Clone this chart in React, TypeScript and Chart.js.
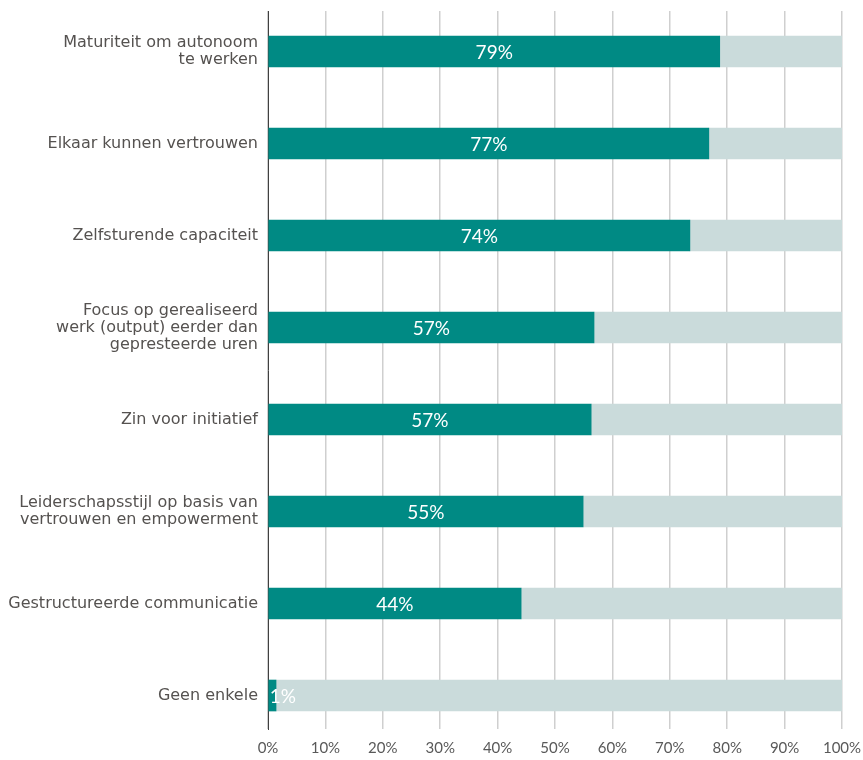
import React, { useEffect, useRef } from "react";
import { Chart, registerables } from "chart.js";

Chart.register(...registerables);

const categories: string[][] = [
  ["Maturiteit om autonoom", "te werken"],
  ["Elkaar kunnen vertrouwen"],
  ["Zelfsturende capaciteit"],
  ["Focus op gerealiseerd", "werk (output) eerder dan", "gepresteerde uren"],
  ["Zin voor initiatief"],
  ["Leiderschapsstijl op basis van", "vertrouwen en empowerment"],
  ["Gestructureerde communicatie"],
  ["Geen enkele"],
];

const values: number[] = [78.7, 76.8, 73.5, 56.8, 56.3, 54.9, 44.1, 1.4];
const valueLabels: string[] = ["79%", "77%", "74%", "57%", "57%", "55%", "44%", "1%"];
const xTicks: number[] = [0, 10, 20, 30, 40, 50, 60, 70, 80, 90, 100];

const TEAL = "#008a84";
const GREY = "#cadbdb";

const valueLabelPlugin = {
  id: "valueLabels",
  afterDatasetsDraw(chart: any) {
    const meta = chart.getDatasetMeta(0);
    const ctx = chart.ctx;
    ctx.save();
    ctx.fillStyle = "#ffffff";
    ctx.font = "19px Lato";
    ctx.textAlign = "center";
    ctx.textBaseline = "middle";
    meta.data.forEach((bar: any, i: number) => {
      const cx = (bar.x + bar.base) / 2;
      const w = ctx.measureText(valueLabels[i]).width;
      const x = Math.max(cx, bar.base + w / 2 + 1);
      ctx.fillText(valueLabels[i], x, bar.y + 1);
    });
    ctx.restore();
  },
};

export default function App() {
  const ref = useRef<HTMLCanvasElement | null>(null);

  useEffect(() => {
    if (!ref.current) return;
    const chart = new Chart(ref.current, {
      type: "bar",
      data: {
        datasets: [
          {
            data: values.map((v, i) => ({ x: v, y: i })),
            backgroundColor: TEAL,
            barThickness: 31,
          },
          {
            data: values.map((v, i) => ({ x: 100 - v, y: i })),
            backgroundColor: GREY,
            barThickness: 31,
          },
        ],
      },
      options: {
        indexAxis: "y",
        animation: false,
        responsive: false,
        maintainAspectRatio: false,
        layout: { padding: { top: 11, right: 21, left: 0, bottom: 0 } },
        plugins: {
          legend: { display: false },
          tooltip: { enabled: false },
        },
        scales: {
          x: {
            type: "linear",
            stacked: true,
            min: 0,
            max: 100,
            afterBuildTicks: (scale: any) => {
              scale.ticks = xTicks.map((v) => ({ value: v }));
            },
            afterFit: (scale: any) => {
              scale.height = 31;
              scale.paddingLeft = 0;
              scale.paddingRight = 0;
            },
            border: { display: false },
            grid: { color: "#cfcfcf", lineWidth: 1.5, drawTicks: false },
            ticks: {
              padding: 10,
              color: "#595959",
              font: { family: "Lato", size: 15 },
              callback: (v: any) => v + "%",
            },
          },
          y: {
            type: "linear",
            stacked: true,
            reverse: true,
            offset: false,
            min: -0.44,
            max: 7.364,
            afterBuildTicks: (scale: any) => {
              scale.ticks = categories.map((_, i) => ({ value: i }));
            },
            afterFit: (scale: any) => {
              scale.width = 268;
              scale.paddingTop = 0;
              scale.paddingBottom = 0;
            },
            border: { display: true, color: "#404040", width: 1 },
            grid: { display: false, drawTicks: false },
            ticks: {
              padding: 10,
              color: "#555250",
              font: { family: "DejaVu Sans", size: 16, lineHeight: 1.07 },
              callback: (v: any) => categories[v] ?? "",
            },
          },
        },
      },
      plugins: [valueLabelPlugin],
    } as any);
    return () => chart.destroy();
  }, []);

  return (
    <div style={{ position: "fixed", left: 0, top: 0, width: 863, height: 760, background: "#ffffff" }}>
      <canvas ref={ref} width={863} height={760} style={{ width: 863, height: 760, display: "block" }} />
    </div>
  );
}
